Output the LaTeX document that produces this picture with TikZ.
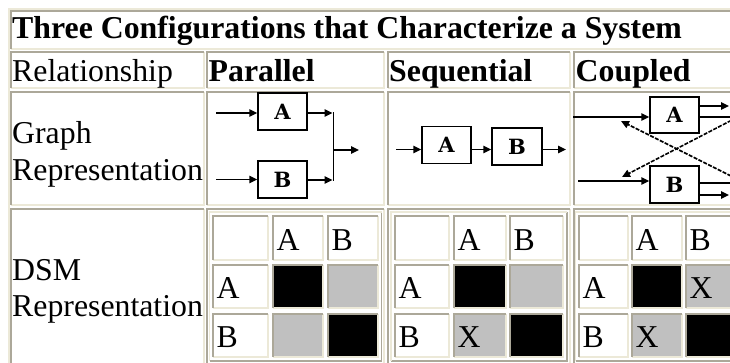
\documentclass[tikz,border=0pt]{standalone}
\usepackage{fontspec}
\setmainfont{Liberation Serif}
\newfontfamily\boxfont{DejaVu Serif}
\usetikzlibrary{arrows.meta}

\definecolor{edgedark}{HTML}{ACA899}
\definecolor{edgelight}{HTML}{ECE9D8}
\definecolor{cellgray}{HTML}{C0C0C0}

\tikzset{
  frameline/.style={line width=1.5pt},
  txt/.style={anchor=base west, inner sep=0pt, font=\fontsize{31.8}{36}\selectfont},
  hdr/.style={anchor=base west, inner sep=0pt, font=\fontsize{31.8}{36}\selectfont\bfseries},
  gbox/.style={draw, line width=1.4pt, minimum width=49pt, minimum height=37pt,
    inner sep=0pt, font=\boxfont\bfseries\fontsize{21}{21}\selectfont},
  wire/.style={line width=1.4pt},
  flow/.style={wire, -{Triangle[length=8pt,width=7.5pt]}},
  feedback/.style={line width=1.6pt, dash pattern=on 4pt off 1.4pt,
    -{Triangle[length=8pt,width=7.5pt]}},
}

% sunken table cell: dark top/left, light bottom/right
\newcommand\insetframe[4]{%
  \draw[edgelight,frameline] (#3,#2) -- (#3,#4) -- (#1,#4);
  \draw[edgedark,frameline] (#1,#4) -- (#1,#2) -- (#3,#2);}
% raised table border: light top/left, dark bottom/right
\newcommand\outsetframe[4]{%
  \draw[edgedark,frameline] (#3,#2) -- (#3,#4) -- (#1,#4);
  \draw[edgelight,frameline] (#1,#4) -- (#1,#2) -- (#3,#2);}
% filled matrix entry
\newcommand\shadecell[5]{%
  \fill[#5] (#1+1,#2+1) rectangle (#3-1,#4-1);}

\begin{document}
\begin{tikzpicture}[x=1pt,y=-1pt]
\useasboundingbox (0,0) rectangle (730,362);
\fill[white] (0,0) rectangle (730,362);
\clip (0,0) rectangle (730,362);

% ---------- outer table and its cells ----------
\outsetframe{9}{9}{800}{420}
\insetframe{11}{11}{800}{49}
\insetframe{11}{52}{204}{88}
\insetframe{207}{52}{384}{88}
\insetframe{388}{52}{570}{88}
\insetframe{574}{52}{800}{88}
\insetframe{11}{92}{204}{205}
\insetframe{207}{92}{384}{205}
\insetframe{388}{92}{570}{205}
\insetframe{574}{92}{800}{205}
\insetframe{11}{209}{204}{410}
\insetframe{207}{209}{384}{410}
\insetframe{388}{209}{570}{410}
\insetframe{574}{209}{800}{410}

% ---------- header texts ----------
\node[hdr] (title) at (12,38.5) {Three Configurations that Characterize a System};
\node[txt] (relation) at (12,81.5) {Relationship};
\node[hdr] (parhead) at (208.5,81.5) {Parallel};
\node[hdr] (seqhead) at (389,81.5) {Sequential};
\node[hdr] (couphead) at (575.5,81.5) {Coupled};
\node[txt] (graph1) at (12,143) {Graph};
\node[txt] (graph2) at (12,180) {Representation};
\node[txt] (dsm1) at (12,280) {DSM};
\node[txt] (dsm2) at (12,316.5) {Representation};

% ---------- parallel graph ----------
\node[gbox] (pA) at (282.5,111.5) {A};
\node[gbox] (pB) at (282.5,179.5) {B};
\coordinate (pinA) at (216,113);
\coordinate (pinB) at (216,179.5);
\coordinate (pbusT) at (333.5,113);
\coordinate (pbusB) at (333.5,180);
\coordinate (pout) at (359,150);
\draw[flow] (pinA) -- (pinA -| pA.west);
\draw[flow] (pinB) -- (pinB -| pB.west);
\draw[flow] (pA.east |- pbusT) -- ([xshift=-1pt]pbusT);
\draw[flow] (pB.east |- pbusB) -- ([xshift=-1pt]pbusB);
\draw[wire] ([yshift=0.7pt]pbusT) -- ([yshift=-0.7pt]pbusB);
\draw[flow] (pbusT |- pout) -- (pout);

% ---------- sequential graph ----------
\node[gbox] (sA) at (446.5,145) {A};
\node[gbox,minimum width=50pt] (sB) at (517,146.5) {B};
\coordinate (sin) at (396,149.5);
\coordinate (sout) at (566,149.5);
\draw[flow] (sin) -- (sin -| sA.west);
\draw[flow] (sA.east |- sin) -- (sin -| sB.west);
\draw[flow] (sB.east |- sin) -- (sout);

% ---------- coupled graph ----------
\node[gbox,minimum height=36pt] (cA) at (674.5,115) {A};
\node[gbox] (cB) at (674.5,184.5) {B};
\coordinate (cinA) at (573,117);
\coordinate (cinB) at (578,181);
\draw[flow] (cinA) -- (cinA -| cA.west);
\draw[flow] (cinB) -- (cinB -| cB.west);
\coordinate (coutA) at (729,106);
\coordinate (cretA) at (760,117);
\coordinate (coutB) at (729,195);
\coordinate (cretB) at (760,183);
\draw[flow] (cA.east |- coutA) -- (coutA);
\draw[wire] (cA.east |- cretA) -- (cretA);
\draw[flow] (cB.east |- coutB) -- (coutB);
\draw[wire] (cB.east |- cretB) -- (cretB);
\coordinate (fbToA) at (621,121);
\coordinate (fbFromB) at (760,190.5);
\coordinate (fbToB) at (622,177);
\coordinate (fbFromA) at (760,105.5);
\draw[feedback] (fbFromB) -- (fbToA);
\draw[feedback] (fbFromA) -- (fbToB);

% ---------- DSM: parallel ----------
\outsetframe{209.5}{212}{381.5}{361}
\shadecell{273}{265}{323}{308}{black}
\shadecell{328}{265}{378}{308}{cellgray}
\shadecell{273}{314}{323}{357}{cellgray}
\shadecell{328}{314}{378}{357}{black}
\foreach \xa/\xb in {213/268,273/323,328/378}
  \foreach \ya/\yb in {216/260,265/308,314/357}
    {\insetframe{\xa}{\ya}{\xb}{\yb}}
\node[txt] (pcolA) at (276.5,250) {A};
\node[txt] (pcolB) at (331.5,250) {B};
\node[txt] (prowA) at (216.5,298) {A};
\node[txt] (prowB) at (216.5,347) {B};

% ---------- DSM: sequential ----------
\outsetframe{391}{212}{567}{361}
\shadecell{454}{265}{506}{308}{black}
\shadecell{510}{265}{563}{308}{cellgray}
\shadecell{454}{314}{506}{357}{cellgray}
\shadecell{510}{314}{563}{357}{black}
\foreach \xa/\xb in {395/449,454/506,510/563}
  \foreach \ya/\yb in {216/260,265/308,314/357}
    {\insetframe{\xa}{\ya}{\xb}{\yb}}
\node[txt] (scolA) at (457.5,250) {A};
\node[txt] (scolB) at (513.5,250) {B};
\node[txt] (srowA) at (398.5,298) {A};
\node[txt] (srowB) at (398.5,347) {B};
\node[txt] (sBA) at (457.5,347) {X};

% ---------- DSM: coupled ----------
\outsetframe{575.5}{212}{800}{361}
\shadecell{632}{265}{682}{308}{black}
\shadecell{686}{265}{740}{308}{cellgray}
\shadecell{632}{314}{682}{357}{cellgray}
\shadecell{686}{314}{740}{357}{black}
\foreach \xa/\xb in {579/628,632/682,686/740}
  \foreach \ya/\yb in {216/260,265/308,314/357}
    {\insetframe{\xa}{\ya}{\xb}{\yb}}
\node[txt] (ccolA) at (635.5,250) {A};
\node[txt] (ccolB) at (689.5,250) {B};
\node[txt] (crowA) at (582.5,298) {A};
\node[txt] (crowB) at (582.5,347) {B};
\node[txt] (cAB) at (689.5,298) {X};
\node[txt] (cBA) at (635.5,347) {X};
\end{tikzpicture}
\end{document}
